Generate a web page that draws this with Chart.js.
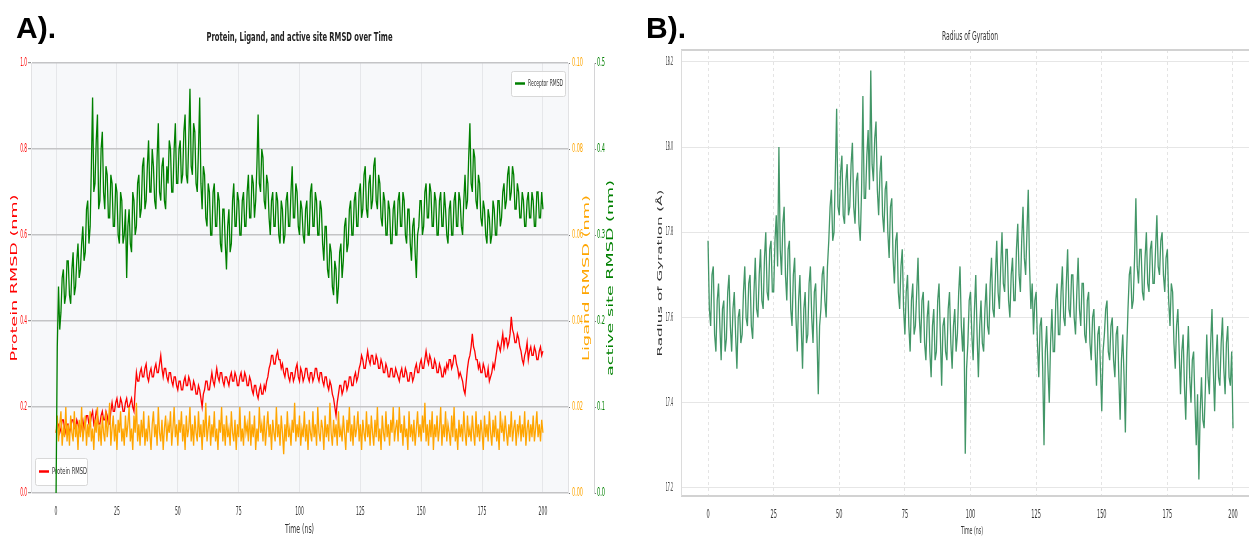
<!DOCTYPE html>
<html>
<head>
<meta charset="utf-8">
<script src="https://cdn.jsdelivr.net/npm/chart.js@4.4.1/dist/chart.umd.min.js"></script>
<style>
html, body { margin: 0; padding: 0; background: #fff; }
body { width: 1249px; height: 537px; position: relative; overflow: hidden; }
canvas { position: absolute; top: 0; }
#chartA { left: 0; }
#chartB { left: 640px; }
.tag { position: absolute; top: 13px; font: bold 30px/30px "Liberation Sans", Arial, sans-serif; color: #000; }
</style>
</head>
<body>
<canvas id="chartA" width="640" height="537"></canvas>
<canvas id="chartB" width="609" height="537"></canvas>
<div class="tag" style="left:16px">A).</div>
<div class="tag" style="left:646px">B).</div>
<script>
// sampling step of the trajectories (ns)
const STEP = 0.5;
const timeTicks = [0, 25, 50, 75, 100, 125, 150, 175, 200];
const proteinTicks = [0, 0.2, 0.4, 0.6, 0.8, 1.0];
const ligandTicks = [0, 0.02, 0.04, 0.06, 0.08, 0.10];
const activeTicks = [0, 0.1, 0.2, 0.3, 0.4, 0.5];
const rgTicks = [17.2, 17.4, 17.6, 17.8, 18.0, 18.2];

// active site (receptor) RMSD, nm - one row = 5 ns
const activeSite = [
  0.00,0.17,0.24,0.19,0.21,0.25,0.26,0.22,0.23,0.27,
  0.27,0.23,0.22,0.26,0.28,0.23,0.24,0.27,0.29,0.25,
  0.26,0.29,0.31,0.27,0.28,0.33,0.34,0.29,0.31,0.38,
  0.46,0.35,0.36,0.41,0.44,0.33,0.34,0.40,0.42,0.35,
  0.33,0.38,0.37,0.32,0.32,0.37,0.36,0.31,0.31,0.36,
  0.35,0.30,0.29,0.35,0.34,0.29,0.30,0.33,0.25,0.31,
  0.33,0.29,0.28,0.35,0.34,0.30,0.31,0.36,0.37,0.32,
  0.33,0.38,0.39,0.33,0.34,0.38,0.41,0.35,0.35,0.40,
  0.38,0.34,0.33,0.39,0.43,0.35,0.34,0.38,0.39,0.34,
  0.33,0.38,0.36,0.41,0.40,0.35,0.35,0.40,0.43,0.36,
  0.36,0.40,0.41,0.36,0.37,0.42,0.44,0.37,0.36,0.41,
  0.47,0.38,0.37,0.43,0.42,0.36,0.35,0.40,0.46,0.36,
  0.33,0.38,0.37,0.32,0.31,0.36,0.35,0.30,0.30,0.35,
  0.36,0.31,0.31,0.35,0.34,0.29,0.28,0.33,0.33,0.29,
  0.26,0.31,0.33,0.28,0.29,0.34,0.36,0.31,0.31,0.35,
  0.34,0.30,0.30,0.34,0.35,0.31,0.31,0.35,0.37,0.32,
  0.32,0.37,0.36,0.32,0.34,0.38,0.44,0.36,0.35,0.40,
  0.39,0.34,0.33,0.37,0.36,0.32,0.30,0.34,0.35,0.31,
  0.31,0.35,0.34,0.30,0.29,0.34,0.33,0.29,0.30,0.34,
  0.35,0.31,0.31,0.35,0.38,0.32,0.32,0.36,0.35,0.31,
  0.30,0.34,0.33,0.30,0.29,0.33,0.34,0.30,0.30,0.35,
  0.36,0.31,0.31,0.35,0.34,0.30,0.30,0.34,0.33,0.29,
  0.27,0.31,0.31,0.26,0.25,0.29,0.28,0.24,0.23,0.27,
  0.26,0.22,0.24,0.28,0.29,0.25,0.27,0.31,0.32,0.28,
  0.29,0.33,0.34,0.30,0.30,0.34,0.35,0.31,0.31,0.35,
  0.36,0.32,0.33,0.37,0.38,0.33,0.32,0.36,0.37,0.33,
  0.34,0.38,0.39,0.34,0.33,0.37,0.36,0.32,0.31,0.35,
  0.34,0.30,0.30,0.34,0.33,0.29,0.29,0.33,0.34,0.30,
  0.30,0.34,0.35,0.31,0.31,0.35,0.34,0.30,0.29,0.33,
  0.33,0.29,0.27,0.31,0.32,0.28,0.25,0.30,0.31,0.34,
  0.34,0.30,0.31,0.35,0.36,0.32,0.32,0.36,0.35,0.31,
  0.31,0.35,0.34,0.30,0.30,0.34,0.35,0.31,0.31,0.35,
  0.33,0.30,0.29,0.33,0.34,0.30,0.30,0.34,0.35,0.31,
  0.31,0.35,0.34,0.31,0.30,0.34,0.37,0.33,0.34,0.39,
  0.43,0.36,0.35,0.40,0.39,0.34,0.33,0.37,0.36,0.32,
  0.31,0.34,0.33,0.30,0.29,0.33,0.32,0.29,0.30,0.34,
  0.33,0.30,0.30,0.34,0.34,0.31,0.32,0.35,0.36,0.33,
  0.34,0.37,0.38,0.34,0.35,0.38,0.37,0.33,0.33,0.36,
  0.35,0.32,0.32,0.35,0.34,0.31,0.31,0.34,0.35,0.32,
  0.32,0.35,0.34,0.31,0.31,0.35,0.35,0.32,0.32,0.35,
  0.33
];

// protein RMSD, nm
const proteinRmsd = [
  0.14,0.16,0.16,0.14,0.15,0.17,0.17,0.15,0.14,0.16,
  0.16,0.14,0.15,0.17,0.17,0.15,0.15,0.17,0.16,0.15,
  0.14,0.16,0.17,0.15,0.16,0.18,0.18,0.16,0.16,0.18,
  0.19,0.16,0.17,0.19,0.18,0.16,0.16,0.18,0.19,0.17,
  0.17,0.19,0.18,0.16,0.16,0.19,0.21,0.19,0.19,0.21,
  0.22,0.20,0.20,0.22,0.21,0.19,0.19,0.21,0.22,0.20,
  0.20,0.21,0.22,0.20,0.19,0.24,0.28,0.26,0.26,0.28,
  0.29,0.27,0.27,0.29,0.30,0.27,0.26,0.28,0.29,0.27,
  0.27,0.29,0.30,0.28,0.28,0.30,0.32,0.29,0.27,0.29,
  0.29,0.27,0.26,0.28,0.28,0.26,0.25,0.27,0.27,0.25,
  0.24,0.26,0.26,0.24,0.24,0.26,0.27,0.25,0.25,0.27,
  0.26,0.24,0.24,0.26,0.25,0.23,0.23,0.25,0.24,0.22,
  0.20,0.23,0.24,0.26,0.26,0.24,0.24,0.26,0.28,0.26,
  0.25,0.27,0.29,0.27,0.26,0.28,0.28,0.26,0.25,0.27,
  0.27,0.26,0.25,0.27,0.28,0.26,0.26,0.28,0.27,0.25,
  0.25,0.27,0.28,0.26,0.26,0.28,0.27,0.25,0.25,0.27,
  0.26,0.24,0.23,0.25,0.25,0.23,0.22,0.24,0.25,0.23,
  0.23,0.25,0.24,0.26,0.27,0.29,0.30,0.32,0.32,0.30,
  0.30,0.32,0.33,0.31,0.31,0.29,0.30,0.28,0.27,0.29,
  0.29,0.27,0.26,0.28,0.28,0.26,0.27,0.29,0.30,0.27,
  0.26,0.29,0.28,0.26,0.27,0.29,0.29,0.27,0.26,0.28,
  0.28,0.26,0.27,0.29,0.29,0.27,0.26,0.28,0.28,0.26,
  0.25,0.27,0.27,0.25,0.24,0.26,0.25,0.23,0.22,0.20,
  0.18,0.21,0.23,0.25,0.25,0.23,0.24,0.26,0.26,0.24,
  0.25,0.27,0.27,0.25,0.25,0.27,0.28,0.26,0.27,0.29,
  0.30,0.32,0.31,0.29,0.29,0.31,0.33,0.31,0.30,0.32,
  0.32,0.30,0.30,0.32,0.31,0.29,0.29,0.31,0.30,0.28,
  0.28,0.30,0.29,0.27,0.27,0.29,0.29,0.27,0.27,0.29,
  0.28,0.27,0.26,0.28,0.29,0.27,0.27,0.29,0.28,0.26,
  0.26,0.28,0.28,0.26,0.27,0.29,0.30,0.28,0.28,0.30,
  0.31,0.29,0.29,0.31,0.33,0.31,0.30,0.32,0.31,0.29,
  0.29,0.31,0.30,0.28,0.28,0.30,0.29,0.27,0.27,0.29,
  0.28,0.30,0.29,0.31,0.31,0.29,0.30,0.32,0.32,0.30,
  0.29,0.27,0.28,0.27,0.26,0.24,0.23,0.26,0.29,0.31,
  0.32,0.34,0.37,0.34,0.33,0.31,0.31,0.29,0.30,0.28,
  0.28,0.30,0.29,0.27,0.27,0.29,0.26,0.27,0.28,0.30,
  0.29,0.31,0.33,0.35,0.34,0.33,0.35,0.37,0.34,0.36,
  0.36,0.34,0.35,0.37,0.41,0.38,0.37,0.35,0.35,0.37,
  0.36,0.34,0.33,0.31,0.30,0.32,0.33,0.35,0.31,0.33,
  0.34,0.32,0.32,0.34,0.33,0.31,0.31,0.33,0.34,0.32,
  0.33
];

// ligand RMSD, nm
const ligandRmsd = [
  0.014,0.018,0.012,0.016,0.019,0.011,0.015,0.013,0.020,0.012,
  0.016,0.011,0.018,0.014,0.012,0.019,0.013,0.016,0.010,0.017,
  0.013,0.020,0.012,0.015,0.018,0.011,0.016,0.013,0.019,0.012,
  0.015,0.010,0.017,0.014,0.020,0.012,0.016,0.011,0.018,0.014,
  0.012,0.019,0.013,0.016,0.021,0.011,0.015,0.018,0.012,0.016,
  0.010,0.017,0.014,0.019,0.012,0.015,0.011,0.018,0.013,0.016,
  0.020,0.012,0.015,0.010,0.018,0.014,0.021,0.012,0.016,0.011,
  0.017,0.013,0.019,0.011,0.015,0.012,0.018,0.014,0.010,0.016,
  0.019,0.013,0.016,0.011,0.020,0.014,0.012,0.017,0.010,0.015,
  0.018,0.012,0.016,0.014,0.019,0.011,0.015,0.020,0.013,0.016,
  0.011,0.017,0.014,0.019,0.012,0.016,0.010,0.018,0.013,0.015,
  0.020,0.012,0.016,0.011,0.018,0.014,0.012,0.019,0.013,0.016,
  0.010,0.017,0.013,0.021,0.012,0.015,0.018,0.011,0.016,0.013,
  0.019,0.012,0.015,0.010,0.017,0.014,0.020,0.012,0.016,0.011,
  0.018,0.013,0.015,0.011,0.019,0.014,0.012,0.017,0.010,0.016,
  0.013,0.020,0.012,0.015,0.011,0.018,0.014,0.016,0.012,0.019,
  0.011,0.016,0.013,0.018,0.010,0.015,0.012,0.020,0.014,0.016,
  0.012,0.018,0.011,0.015,0.019,0.013,0.016,0.010,0.017,0.014,
  0.012,0.020,0.013,0.016,0.011,0.018,0.014,0.009,0.016,0.012,
  0.019,0.013,0.015,0.011,0.017,0.014,0.021,0.012,0.016,0.013,
  0.018,0.011,0.015,0.013,0.019,0.012,0.016,0.010,0.017,0.014,
  0.012,0.019,0.013,0.016,0.011,0.020,0.014,0.012,0.017,0.015,
  0.010,0.018,0.013,0.016,0.012,0.021,0.014,0.011,0.017,0.013,
  0.016,0.011,0.019,0.013,0.015,0.012,0.018,0.014,0.010,0.017,
  0.014,0.020,0.012,0.016,0.011,0.018,0.013,0.015,0.019,0.012,
  0.016,0.010,0.017,0.014,0.012,0.019,0.013,0.016,0.011,0.018,
  0.014,0.011,0.017,0.013,0.020,0.012,0.015,0.010,0.018,0.014,
  0.012,0.019,0.013,0.016,0.011,0.017,0.014,0.020,0.012,0.015,
  0.017,0.012,0.020,0.014,0.016,0.011,0.018,0.013,0.015,0.010,
  0.019,0.013,0.016,0.012,0.017,0.011,0.015,0.019,0.013,0.016,
  0.012,0.018,0.014,0.021,0.012,0.016,0.011,0.017,0.013,0.019,
  0.010,0.016,0.013,0.018,0.012,0.015,0.020,0.011,0.016,0.013,
  0.019,0.012,0.016,0.014,0.011,0.018,0.013,0.020,0.012,0.015,
  0.010,0.017,0.013,0.016,0.012,0.019,0.014,0.011,0.018,0.013,
  0.015,0.012,0.018,0.014,0.011,0.019,0.013,0.016,0.012,0.017,
  0.014,0.010,0.018,0.013,0.016,0.012,0.019,0.014,0.011,0.017,
  0.013,0.018,0.012,0.015,0.010,0.019,0.014,0.016,0.012,0.018,
  0.014,0.011,0.016,0.013,0.019,0.012,0.015,0.017,0.011,0.016,
  0.014,0.018,0.012,0.016,0.013,0.019,0.011,0.015,0.017,0.012,
  0.016,0.013,0.018,0.012,0.015,0.019,0.013,0.016,0.012,0.017,
  0.014
];

// radius of gyration, Angstrom
const gyration = [
  17.78,17.62,17.58,17.70,17.72,17.56,17.52,17.64,17.68,17.58,
  17.50,17.62,17.64,17.52,17.55,17.66,17.70,17.58,17.52,17.62,
  17.66,17.56,17.48,17.60,17.62,17.54,17.56,17.66,17.72,17.60,
  17.58,17.68,17.70,17.58,17.55,17.66,17.74,17.62,17.60,17.70,
  17.76,17.64,17.62,17.74,17.80,17.66,17.64,17.76,17.78,17.66,
  17.66,17.78,17.84,17.72,18.00,17.76,17.70,17.82,17.86,17.70,
  17.64,17.76,17.78,17.62,17.58,17.70,17.74,17.60,17.52,17.64,
  17.70,17.58,17.48,17.62,17.66,17.54,17.56,17.68,17.72,17.60,
  17.54,17.66,17.68,17.56,17.42,17.58,17.62,17.70,17.72,17.64,
  17.60,17.72,17.78,17.86,17.90,17.78,17.80,17.94,18.09,17.86,
  17.84,17.94,17.98,17.84,17.82,17.92,17.96,17.84,17.86,17.96,
  18.01,17.86,17.82,17.92,17.94,17.82,17.78,17.90,18.12,17.88,
  17.88,17.98,18.04,17.90,18.18,17.96,17.92,18.02,18.06,17.90,
  17.84,17.94,17.98,17.84,17.80,17.90,17.92,17.80,17.74,17.86,
  17.88,17.74,17.68,17.78,17.80,17.66,17.62,17.72,17.76,17.62,
  17.56,17.66,17.70,17.58,17.52,17.64,17.68,17.56,17.58,17.66,
  17.74,17.60,17.54,17.64,17.66,17.54,17.50,17.60,17.64,17.52,
  17.46,17.58,17.62,17.50,17.52,17.64,17.68,17.56,17.44,17.58,
  17.60,17.52,17.50,17.62,17.66,17.54,17.48,17.58,17.62,17.52,
  17.56,17.66,17.72,17.58,17.52,17.60,17.28,17.48,17.54,17.64,
  17.66,17.56,17.50,17.62,17.70,17.56,17.46,17.58,17.64,17.54,
  17.52,17.62,17.68,17.58,17.56,17.68,17.74,17.62,17.60,17.70,
  17.78,17.66,17.62,17.72,17.80,17.68,17.66,17.76,17.76,17.64,
  17.60,17.70,17.74,17.64,17.64,17.76,17.82,17.70,17.66,17.78,
  17.86,17.74,17.70,17.80,17.90,17.72,17.62,17.68,17.56,17.64,
  17.66,17.54,17.46,17.58,17.60,17.48,17.30,17.52,17.58,17.48,
  17.40,17.54,17.62,17.52,17.52,17.64,17.68,17.56,17.56,17.66,
  17.72,17.60,17.58,17.68,17.76,17.62,17.60,17.70,17.70,17.60,
  17.56,17.66,17.74,17.62,17.58,17.68,17.68,17.56,17.54,17.64,
  17.66,17.54,17.50,17.60,17.62,17.52,17.44,17.56,17.58,17.48,
  17.38,17.52,17.56,17.62,17.64,17.52,17.50,17.58,17.60,17.50,
  17.46,17.56,17.58,17.46,17.36,17.50,17.56,17.46,17.33,17.52,
  17.62,17.70,17.72,17.62,17.64,17.74,17.88,17.72,17.68,17.76,
  17.76,17.66,17.64,17.74,17.80,17.68,17.66,17.76,17.78,17.68,
  17.68,17.76,17.84,17.72,17.70,17.78,17.80,17.70,17.66,17.74,
  17.76,17.64,17.58,17.68,17.66,17.54,17.48,17.58,17.62,17.52,
  17.42,17.52,17.56,17.44,17.36,17.50,17.58,17.46,17.40,17.50,
  17.52,17.40,17.30,17.42,17.22,17.38,17.46,17.36,17.34,17.44,
  17.56,17.46,17.42,17.54,17.62,17.48,17.38,17.50,17.56,17.46,
  17.44,17.54,17.60,17.48,17.42,17.54,17.58,17.46,17.44,17.52,
  17.34
];

const FONT = '"DejaVu Sans", "Noto Sans", sans-serif';

const toPoints = (arr) => arr.map((v, i) => ({ x: i * STEP, y: v }));
const fixTicks = (list) => (scale) => { scale.ticks = list.map((v) => ({ value: v })); };

// light grey plot background
const plotBg = {
  id: 'plotBg',
  beforeDraw(chart, args, opts) {
    if (!opts.color) return;
    const { ctx, chartArea: a } = chart;
    ctx.save();
    ctx.fillStyle = opts.color;
    ctx.fillRect(a.left, a.top, a.right - a.left, a.bottom - a.top);
    ctx.restore();
  },
};

// the original picture is squeezed sideways, so text is drawn narrow
const tickLabels = {
  id: 'tickLabels',
  afterDraw(chart, args, opts) {
    const ctx = chart.ctx;
    (opts.axes || []).forEach((ax) => {
      const scale = chart.scales[ax.id];
      ctx.save();
      ctx.font = ax.size + 'px ' + FONT;
      ctx.fillStyle = ax.color;
      ctx.textBaseline = 'middle';
      scale.ticks.forEach((t) => {
        let x, y, align;
        if (scale.isHorizontal()) {
          x = scale.getPixelForValue(t.value);
          y = scale.top + ax.offset;
          align = 'center';
        } else {
          y = scale.getPixelForValue(t.value);
          if (scale.position === 'left') { x = scale.right - ax.offset; align = 'right'; }
          else { x = scale.left + ax.offset; align = 'left'; }
        }
        ctx.save();
        ctx.translate(x, y);
        ctx.scale(ax.sx, 1);
        ctx.textAlign = align;
        ctx.fillText(ax.fmt(t.value), 0, 0);
        ctx.restore();
      });
      ctx.restore();
    });
  },
};

const axisTitles = {
  id: 'axisTitles',
  afterDraw(chart, args, opts) {
    const { ctx, chartArea: a } = chart;
    (opts.items || []).forEach((t) => {
      ctx.save();
      ctx.font = t.font;
      ctx.fillStyle = t.color;
      ctx.textAlign = 'center';
      ctx.textBaseline = 'middle';
      const along = t.width ? t.width / ctx.measureText(t.text).width : 1;
      const x = t.x != null ? t.x : (a.left + a.right) / 2;
      const y = t.y != null ? t.y : (a.top + a.bottom) / 2;
      ctx.translate(x, y);
      if (t.rotate) ctx.rotate(-Math.PI / 2);
      ctx.scale(along, t.squeeze || 1);
      ctx.fillText(t.text, 0, 0);
      ctx.restore();
    });
  },
};

function legendBox(ctx, x, y, w, h, color, text) {
  ctx.save();
  ctx.fillStyle = 'rgba(255,255,255,0.9)';
  ctx.strokeStyle = '#d8d8d8';
  ctx.lineWidth = 1;
  ctx.beginPath();
  ctx.roundRect(x + 0.5, y + 0.5, w, h, 2);
  ctx.fill();
  ctx.stroke();
  ctx.strokeStyle = color;
  ctx.lineWidth = 2.5;
  ctx.beginPath();
  ctx.moveTo(x + 4, y + h / 2);
  ctx.lineTo(x + 14, y + h / 2);
  ctx.stroke();
  ctx.fillStyle = '#333';
  ctx.font = '9px ' + FONT;
  ctx.textBaseline = 'middle';
  const sx = 35 / ctx.measureText(text).width;
  ctx.translate(x + 17, y + h / 2 + 0.5);
  ctx.scale(sx, 1);
  ctx.fillText(text, 0, 0);
  ctx.restore();
}

// legends: protein one sits under the ligand/receptor lines, receptor one on top
const legends = {
  id: 'legends',
  afterDatasetDraw(chart, args) {
    const a = chart.chartArea;
    if (args.index === 2) legendBox(chart.ctx, a.left + 4, a.bottom - 35, 52, 27, 'red', 'Protein RMSD');
  },
  afterDatasetsDraw(chart) {
    const a = chart.chartArea;
    legendBox(chart.ctx, a.right - 57, a.top + 8, 54, 25, 'green', 'Receptor RMSD');
  },
};

new Chart(document.getElementById('chartA'), {
  type: 'line',
  data: {
    datasets: [
      { label: 'Receptor RMSD', data: toPoints(activeSite), yAxisID: 'yActive', borderColor: '#008000', borderWidth: 1.3 },
      { label: 'Ligand RMSD', data: toPoints(ligandRmsd), yAxisID: 'yLigand', borderColor: '#ffa500', borderWidth: 1.3 },
      { label: 'Protein RMSD', data: toPoints(proteinRmsd), yAxisID: 'yProtein', borderColor: '#ff0000', borderWidth: 1.3 },
    ],
  },
  options: {
    responsive: false,
    animation: false,
    devicePixelRatio: 1,
    layout: { padding: { top: 63, right: 22, bottom: 0, left: 0 } },
    elements: { point: { radius: 0 }, line: { tension: 0 } },
    plugins: {
      legend: { display: false },
      tooltip: { enabled: false },
      plotBg: { color: '#f7f8fa' },
      tickLabels: {
        axes: [
          { id: 'x', color: '#333', size: 12, sx: 0.38, offset: 19, fmt: (v) => String(v) },
          { id: 'yProtein', color: '#ff0000', size: 12, sx: 0.36, offset: 4, fmt: (v) => v.toFixed(1) },
          { id: 'yLigand', color: '#ffa500', size: 12, sx: 0.41, offset: 4, fmt: (v) => v.toFixed(2) },
          { id: 'yActive', color: '#008000', size: 12, sx: 0.42, offset: 3, fmt: (v) => v.toFixed(1) },
        ],
      },
      axisTitles: {
        items: [
          { text: 'Protein, Ligand, and active site RMSD over Time', font: 'bold 12px ' + FONT, color: '#222', y: 38, width: 186 },
          { text: 'Time (ns)', font: '12px ' + FONT, color: '#333', y: 530, width: 29 },
          { text: 'Protein RMSD (nm)', font: '12px ' + FONT, color: '#ff0000', rotate: true, x: 15, width: 167, squeeze: 0.7 },
          { text: 'Ligand RMSD (nm)', font: '12px ' + FONT, color: '#ffa500', rotate: true, x: 587, width: 166, squeeze: 0.7 },
          { text: 'active site RMSD (nm)', font: '12px ' + FONT, color: '#008000', rotate: true, x: 611, width: 196, squeeze: 0.7 },
        ],
      },
    },
    scales: {
      x: {
        type: 'linear',
        min: -10.3,
        max: 210.3,
        afterBuildTicks: fixTicks(timeTicks),
        afterFit: (s) => { s.height = 44; },
        grid: { color: '#e6e7ea', lineWidth: 1, drawTicks: false },
        border: { display: false },
        ticks: { display: false },
      },
      yProtein: {
        position: 'left',
        min: 0,
        max: 1,
        afterBuildTicks: fixTicks(proteinTicks),
        afterFit: (s) => { s.width = 31; },
        grid: { color: '#c4c4c6', lineWidth: 1.4, tickLength: 3, tickColor: '#777', tickWidth: 1 },
        border: { display: true, color: '#e2e2e4' },
        ticks: { display: false },
      },
      yLigand: {
        position: 'right',
        weight: 1,
        min: 0,
        max: 0.1,
        afterBuildTicks: fixTicks(ligandTicks),
        afterFit: (s) => { s.width = 26; },
        grid: { drawOnChartArea: false, tickLength: 2, tickColor: '#777' },
        border: { display: true, color: '#e2e2e4' },
        ticks: { display: false },
      },
      yActive: {
        position: 'right',
        weight: 2,
        min: 0,
        max: 0.5,
        afterBuildTicks: fixTicks(activeTicks),
        afterFit: (s) => { s.width = 24; },
        grid: { drawOnChartArea: false, tickLength: 2, tickColor: '#777' },
        border: { display: true, color: '#d4d4d6' },
        ticks: { display: false },
      },
    },
  },
  plugins: [plotBg, legends, tickLabels, axisTitles],
});

// top, bottom and left frame of panel B
const frameB = {
  id: 'frameB',
  afterDraw(chart) {
    const { ctx, chartArea: a } = chart;
    ctx.save();
    ctx.strokeStyle = '#d2d2d2';
    ctx.lineWidth = 2;
    ctx.beginPath();
    ctx.moveTo(a.left, a.top);
    ctx.lineTo(a.right, a.top);
    ctx.moveTo(a.left, a.bottom);
    ctx.lineTo(a.right, a.bottom);
    ctx.stroke();
    ctx.lineWidth = 1;
    ctx.strokeStyle = '#dcdcdc';
    ctx.beginPath();
    ctx.moveTo(a.left + 0.5, a.top);
    ctx.lineTo(a.left + 0.5, a.bottom);
    ctx.stroke();
    ctx.restore();
  },
};

new Chart(document.getElementById('chartB'), {
  type: 'line',
  data: {
    datasets: [
      { label: 'Radius of Gyration', data: toPoints(gyration), borderColor: 'rgba(46,139,87,0.9)', borderWidth: 1.3 },
    ],
  },
  options: {
    responsive: false,
    animation: false,
    devicePixelRatio: 1,
    layout: { padding: { top: 50, right: 0, bottom: 0, left: 0 } },
    elements: { point: { radius: 0 }, line: { tension: 0 } },
    plugins: {
      legend: { display: false },
      tooltip: { enabled: false },
      tickLabels: {
        axes: [
          { id: 'x', color: '#333', size: 12, sx: 0.42, offset: 19, fmt: (v) => String(v) },
          { id: 'y', color: '#333', size: 12, sx: 0.27, offset: 8, fmt: (v) => v.toFixed(1) },
        ],
      },
      axisTitles: {
        items: [
          { text: 'Radius of Gyration', font: '12px ' + FONT, color: '#333', x: 330, y: 37, width: 56 },
          { text: 'Time (ns)', font: '11px ' + FONT, color: '#333', x: 332, y: 531, width: 22 },
          { text: 'Radius of Gyration (Å)', font: '11px ' + FONT, color: '#333', rotate: true, x: 20, width: 167, squeeze: 0.7 },
        ],
      },
    },
    scales: {
      x: {
        type: 'linear',
        min: -10.3,
        max: 206.1,
        afterBuildTicks: fixTicks(timeTicks),
        afterFit: (s) => { s.height = 41; },
        grid: { color: '#e4e4e4', lineWidth: 1, drawTicks: false },
        border: { display: false, dash: [3, 3] },
        ticks: { display: false },
      },
      y: {
        min: 17.181,
        max: 18.228,
        afterBuildTicks: fixTicks(rgTicks),
        afterFit: (s) => { s.width = 41; },
        grid: { color: '#e6e6e6', lineWidth: 1, drawTicks: false },
        border: { display: false },
        ticks: { display: false },
      },
    },
  },
  plugins: [frameB, tickLabels, axisTitles],
});
</script>
</body>
</html>
